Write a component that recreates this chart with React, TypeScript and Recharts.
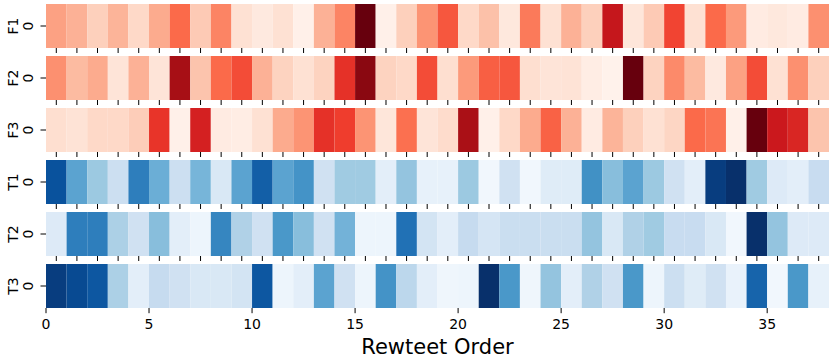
import React from 'react';
import { BarChart, Bar, XAxis, YAxis } from 'recharts';

// rows of the heatmap, top to bottom
const rowNames = ['F1', 'F2', 'F3', 'T1', 'T2', 'T3'];

// colour intensity per rewteet position (0..1)
const f1 = [0.33, 0.28, 0.18, 0.27, 0.15, 0.3, 0.5, 0.2, 0.42, 0.12, 0.07, 0.12, 0.03, 0.28, 0.42, 1.0, 0.03, 0.18, 0.37,
    0.55, 0.15, 0.23, 0.08, 0.45, 0.12, 0.28, 0.18, 0.77, 0.09, 0.2, 0.6, 0.12, 0.5, 0.35, 0.06, 0.08, 0.06, 0.38];
const f2 = [0.38, 0.25, 0.3, 0.1, 0.28, 0.1, 0.87, 0.22, 0.5, 0.58, 0.28, 0.17, 0.12, 0.17, 0.66, 0.93, 0.17, 0.15, 0.58,
    0.13, 0.35, 0.53, 0.55, 0.13, 0.1, 0.11, 0.05, 0.02, 1.0, 0.17, 0.4, 0.25, 0.07, 0.33, 0.58, 0.12, 0.38, 0.18];
const f3 = [0.13, 0.11, 0.15, 0.15, 0.19, 0.65, 0.03, 0.72, 0.06, 0.05, 0.12, 0.3, 0.37, 0.66, 0.62, 0.37, 0.09, 0.48, 0.1,
    0.14, 0.86, 0.03, 0.15, 0.3, 0.52, 0.28, 0.06, 0.27, 0.18, 0.12, 0.16, 0.5, 0.47, 0.03, 1.0, 0.75, 0.7, 0.22];
const t1 = [0.87, 0.55, 0.38, 0.22, 0.7, 0.5, 0.22, 0.47, 0.15, 0.55, 0.82, 0.55, 0.62, 0.2, 0.37, 0.37, 0.1, 0.4, 0.08,
    0.08, 0.38, 0.03, 0.2, 0.03, 0.12, 0.12, 0.63, 0.43, 0.55, 0.38, 0.2, 0.1, 0.95, 1.0, 0.37, 0.13, 0.1, 0.24];
const t2 = [0.13, 0.7, 0.7, 0.33, 0.2, 0.43, 0.1, 0.05, 0.67, 0.32, 0.2, 0.6, 0.43, 0.2, 0.48, 0.05, 0.05, 0.75, 0.18,
    0.1, 0.25, 0.17, 0.23, 0.23, 0.23, 0.23, 0.4, 0.15, 0.32, 0.37, 0.24, 0.24, 0.15, 0.03, 1.0, 0.4, 0.13, 0.13];
const t3 = [0.95, 0.9, 0.85, 0.33, 0.1, 0.25, 0.2, 0.15, 0.15, 0.18, 0.85, 0.05, 0.1, 0.55, 0.2, 0.05, 0.62, 0.28, 0.1,
    0.04, 0.05, 1.0, 0.6, 0.04, 0.4, 0.1, 0.32, 0.2, 0.6, 0.05, 0.22, 0.12, 0.2, 0.07, 0.8, 0.03, 0.6, 0.08];

const xTicks = [0, 5, 10, 15, 20, 25, 30, 35];

const rowValues = [f1, f2, f3, t1, t2, t3];
const nCells = f1.length;

const REDS = ['#fff5f0', '#fee0d2', '#fcbba1', '#fc9272', '#fb6a4a', '#ef3b2c', '#cb181d', '#a50f15', '#67000d'];
const BLUES = ['#f7fbff', '#deebf7', '#c6dbef', '#9ecae1', '#6baed6', '#4292c6', '#2171b5', '#08519c', '#08306b'];

const hexToRgb = (h: string) => [1, 3, 5].map(i => parseInt(h.slice(i, i + 2), 16));

const colorAt = (stops: string[], v: number) => {
    const t = Math.max(0, Math.min(1, v)) * (stops.length - 1);
    const i = Math.min(Math.floor(t), stops.length - 2);
    const f = t - i;
    const a = hexToRgb(stops[i]);
    const b = hexToRgb(stops[i + 1]);
    const c = a.map((x, k) => Math.round(x + (b[k] - x) * f));
    return `rgb(${c[0]},${c[1]},${c[2]})`;
};

const chartData = rowNames.map(name => {
    const row: { [key: string]: string | number } = { name };
    for (let i = 0; i < nCells; i++) row['c' + i] = 1;
    return row;
});

const FONT = 'DejaVu Sans, sans-serif';

const HeatCell = (props: any) => {
    const { x, y, width, height, payload, col } = props;
    const r = rowNames.indexOf(payload?.name ?? rowNames[props.index]);
    const stops = rowNames[r].startsWith('F') ? REDS : BLUES;
    const fill = colorAt(stops, rowValues[r][col]);
    const cx = x + width / 2;
    return (
        <g>
            <rect x={x} y={y} width={width} height={height} fill={fill} />
            {r < rowNames.length - 1 && (
                <line x1={cx} x2={cx} y1={y + height} y2={y + height + 5} stroke="#000" strokeWidth={1} />
            )}
        </g>
    );
};

const RowTick = (props: any) => {
    const { x, y, payload } = props;
    return (
        <g>
            <line x1={x - 5.5} x2={x} y1={y} y2={y} stroke="#000" strokeWidth={1} />
            <text x={28} y={y} transform={`rotate(-90, 28, ${y})`} textAnchor="middle" dominantBaseline="central"
                fontSize={14} fontFamily={FONT} fill="#000">0</text>
            <text x={12.5} y={y} transform={`rotate(-90, 12.5, ${y})`} textAnchor="middle" dominantBaseline="central"
                fontSize={14} fontFamily={FONT} fill="#000">{payload.value}</text>
        </g>
    );
};

const OrderTick = (props: any) => {
    const { x, y, payload } = props;
    return (
        <g>
            <line x1={x} x2={x} y1={y - 4} y2={y + 1.2} stroke="#000" strokeWidth={1} />
            <text x={x} y={y + 17} textAnchor="middle" fontSize={14} fontFamily={FONT} fill="#000">{payload.value}</text>
        </g>
    );
};

export default function App() {
    return (
        <div style={{ position: 'absolute', left: 0, top: 0, background: '#fff' }}>
            <BarChart
                width={830}
                height={359}
                data={chartData}
                layout="vertical"
                margin={{ top: 0, right: 1, left: 0, bottom: 0 }}
                barCategoryGap={4}
            >
                <XAxis
                    type="number"
                    domain={[0, nCells]}
                    ticks={xTicks}
                    allowDataOverflow
                    axisLine={false}
                    tickLine={false}
                    tickSize={0}
                    tickMargin={0}
                    height={47}
                    tick={<OrderTick />}
                    label={{ value: 'Rewteet Order', position: 'insideBottom', offset: 5, fontSize: 21, fontFamily: FONT, fill: '#000' }}
                />
                <YAxis
                    type="category"
                    dataKey="name"
                    width={46}
                    axisLine={false}
                    tickLine={false}
                    tickSize={0}
                    tickMargin={0}
                    tick={<RowTick />}
                />
                {Array.from({ length: nCells }, (_, i) => (
                    <Bar
                        key={i}
                        dataKey={'c' + i}
                        stackId="heat"
                        isAnimationActive={false}
                        shape={(p: any) => <HeatCell {...p} col={i} />}
                    />
                ))}
            </BarChart>
        </div>
    );
}
